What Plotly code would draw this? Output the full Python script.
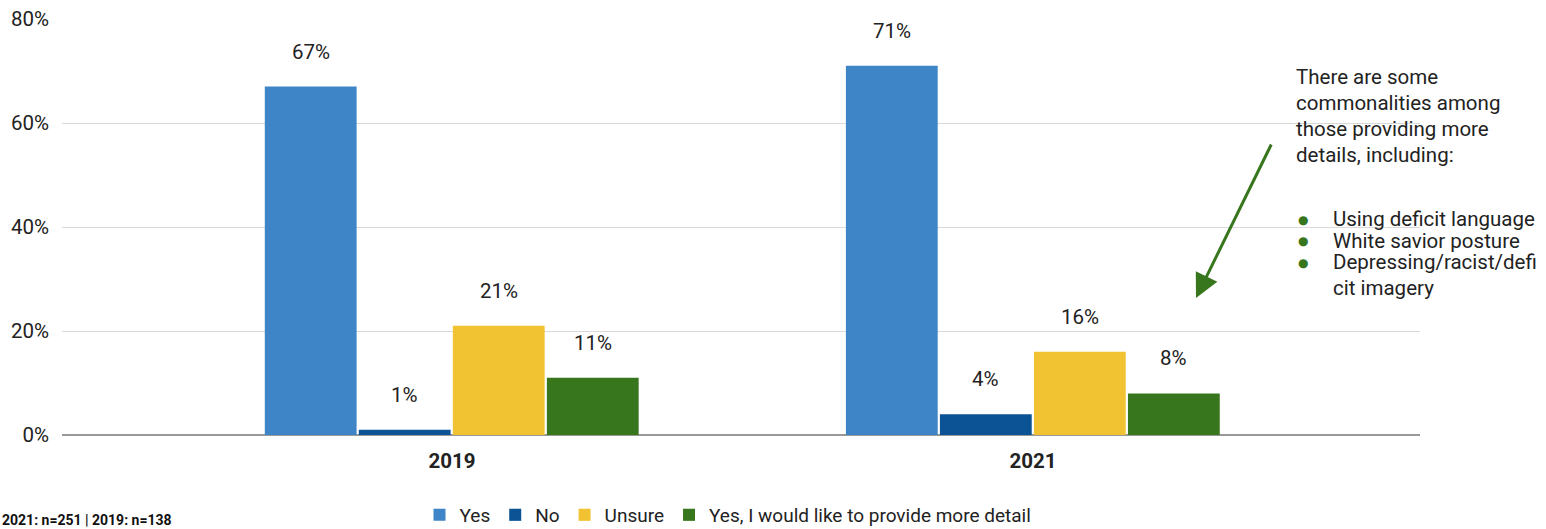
import plotly.graph_objects as go

years = ["2019", "2021"]
series_names = ["Yes", "No", "Unsure", "Yes, I would like to provide more detail"]
values = {
    "Yes": [67, 71],
    "No": [1, 4],
    "Unsure": [21, 16],
    "Yes, I would like to provide more detail": [11, 8],
}
colors = ["#3d85c6", "#0b5394", "#f1c232", "#38761d"]
y_ticks = [0, 20, 40, 60, 80]
y_tick_labels = ["0%", "20%", "40%", "60%", "80%"]

note_lines = ["There are some", "commonalities among", "those providing more", "details, including:"]
bullet_lines = ["Using deficit language", "White savior posture", "Depressing/racist/defi"]
bullet_tail = "cit imagery"
footnote = "<b>2021: n=251 | 2019: n=138</b>"

FONT = "Roboto, Arial, sans-serif"
TXT = "#222222"
bar_w = 0.158
step = 0.1618
first_offset = -0.322
xpos = list(range(len(years)))

fig = go.Figure()
annotations = []
for i, name in enumerate(series_names):
    off = first_offset + i * step
    fig.add_trace(go.Bar(
        x=xpos, y=values[name], name=name,
        marker=dict(color=colors[i], line=dict(width=0)),
        width=bar_w, offset=off,
        hoverinfo="skip",
    ))
    for xi, v in zip(xpos, values[name]):
        annotations.append(dict(
            x=xi + off + bar_w / 2, y=v, xref="x", yref="y",
            text=f"{v}%", showarrow=False, yanchor="middle", yshift=35,
            font=dict(size=20.5, color=TXT, family=FONT),
        ))

# plot area in pixels: x 62..1420, y 19..435
def px_x(p):
    return (p - 62) / 1358

def px_y(p):
    return (435 - p) / 416

for k, line in enumerate(note_lines):
    annotations.append(dict(
        x=px_x(1294), y=px_y(77 + 26 * k), xref="paper", yref="paper",
        text=line, showarrow=False, xanchor="left", yanchor="middle",
        font=dict(size=20.5, color=TXT, family=FONT),
    ))
for k, line in enumerate(bullet_lines):
    yy = 219 + 21.5 * k
    annotations.append(dict(
        x=px_x(1303), y=px_y(yy + 1), xref="paper", yref="paper",
        text="●", showarrow=False, xanchor="center", yanchor="middle",
        font=dict(size=12, color="#38761d", family="DejaVu Sans, sans-serif"),
    ))
    annotations.append(dict(
        x=px_x(1331), y=px_y(yy), xref="paper", yref="paper",
        text=line, showarrow=False, xanchor="left", yanchor="middle",
        font=dict(size=20.5, color=TXT, family=FONT),
    ))
annotations.append(dict(
    x=px_x(1331), y=px_y(219 + 21.5 * 3 + 4), xref="paper", yref="paper",
    text=bullet_tail, showarrow=False, xanchor="left", yanchor="middle",
    font=dict(size=20.5, color=TXT, family=FONT),
))
# green arrow pointing down to the 2021 detail bar
annotations.append(dict(
    x=px_x(1196), y=px_y(298), xref="paper", yref="paper",
    ax=76, ay=-155, text="", showarrow=True,
    arrowhead=2, arrowsize=1.6, arrowwidth=3, arrowcolor="#38761d",
))
annotations.append(dict(
    x=-62 / 1358, y=px_y(520), xref="paper", yref="paper",
    text=footnote, showarrow=False, xanchor="left", yanchor="middle",
    font=dict(size=14, color="#111111", family="Liberation Sans Narrow, Roboto, sans-serif"),
))

fig.update_layout(
    width=1546, height=529,
    margin=dict(l=62, r=126, t=19, b=94, autoexpand=False),
    paper_bgcolor="white", plot_bgcolor="white",
    barmode="overlay",
    showlegend=True,
    legend=dict(
        orientation="h", x=px_x(728), xanchor="center", y=px_y(515), yanchor="middle",
        font=dict(size=19, color=TXT, family=FONT),
        itemwidth=30, tracegroupgap=0, bgcolor="rgba(0,0,0,0)",
    ),
    xaxis=dict(
        range=[-0.671, 1.666], tickvals=xpos,
        ticktext=[f"<b>{y}</b>" for y in years],
        showgrid=False, zeroline=False, showline=False, ticks="",
        ticklabelstandoff=11,
        tickfont=dict(size=20.5, color=TXT, family=FONT),
    ),
    yaxis=dict(
        range=[0, 80], tickvals=y_ticks, ticktext=y_tick_labels,
        showgrid=True, gridcolor="#d9d9d9", gridwidth=1,
        zeroline=True, zerolinecolor="#999999", zerolinewidth=1.5,
        ticks="", ticklabelstandoff=12,
        tickfont=dict(size=20.5, color=TXT, family=FONT),
    ),
    annotations=annotations,
)

fig.write_html("out.html")
